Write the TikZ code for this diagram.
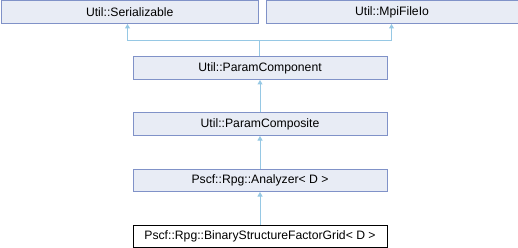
\documentclass[tikz,border=0pt]{standalone}
\usepackage{fontspec}
\setmainfont{Liberation Sans}
\usetikzlibrary{arrows.meta}
\definecolor{boxfill}{RGB}{232,236,245}
\definecolor{boxline}{RGB}{128,146,200}
\definecolor{edgeblue}{RGB}{150,200,228}
\begin{document}
\begin{tikzpicture}[x=1pt,y=-1pt,
  cls/.style={draw=boxline, fill=boxfill, line width=1pt, minimum height=22.5pt,
    inner sep=0pt, anchor=north west, font=\fontsize{12.2}{14}\selectfont},
  cur/.style={cls, draw=black, fill=white},
  inh/.style={draw=edgeblue, line width=1pt,
    -{Triangle[width=5pt,length=4.5pt,fill=edgeblue]}}]
\useasboundingbox (0,0) rectangle (518,248);
\node[cls, minimum width=257.5pt] (ser) at (0.5,0.5) {Util::Serializable};
\node[cls, minimum width=252pt] (mpi) at (265.5,0.5) {Util::MpiFileIo};
\node[cls, minimum width=254pt] (pc) at (132.5,56.5) {Util::ParamComponent};
\node[cls, minimum width=254pt] (pcomp) at (132.5,112.5) {Util::ParamComposite};
\node[cls, minimum width=254pt] (ana) at (132.5,168.5) {Pscf::Rpg::Analyzer< D >};
\node[cur, minimum width=254pt] (grid) at (132.5,224.5) {Pscf::Rpg::BinaryStructureFactorGrid< D >};
% junction where the two base-class edges split
\coordinate (split) at (259.5,40.5);
\draw[inh] (split) -| (ser.south -| 127.5,0);
\draw[inh] (split) -| (mpi.south -| 391.5,0);
\draw[draw=edgeblue, line width=1pt] (pc.north -| split) -- (split);
\draw[inh] (pcomp.north) -- (pc.south);
\draw[inh] (ana.north) -- (pcomp.south);
\draw[inh] (grid.north) -- (ana.south);
\end{tikzpicture}
\end{document}
